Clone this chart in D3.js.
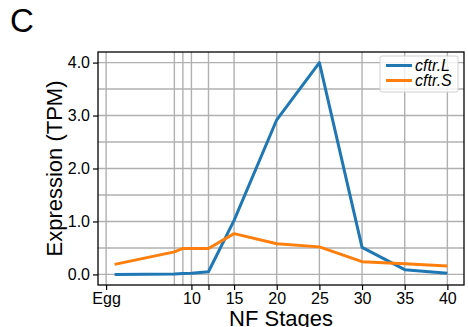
<!DOCTYPE html>
<html>
<head>
<meta charset="utf-8">
<script src="https://cdn.jsdelivr.net/npm/d3@7"></script>
<style>
  body { margin: 0; background: #fff; }
  svg { display: block; font-family: "Liberation Sans", Arial, sans-serif; }
</style>
</head>
<body>
<div id="chart"></div>
<script>
// stage positions of the samples (Egg drawn at stage 1)
var stages = [1, 8, 9, 10, 12, 15, 20, 25, 30, 35, 40];
var cftrL = [0.0, 0.01, 0.015, 0.02, 0.05, 1.02, 2.92, 4.0, 0.51, 0.09, 0.02];
var cftrS = [0.19, 0.425, 0.49, 0.49, 0.49, 0.77, 0.58, 0.52, 0.24, 0.20, 0.16];

// x ticks and their labels ('' = gridline only)
var xTicks = [0, 8, 9, 10, 12, 15, 20, 25, 30, 35, 40];
var xTickLabels = ['Egg', '', '', '10', '', '15', '20', '25', '30', '35', '40'];
var xTickMarks = [true, false, false, true, true, true, true, true, true, true, true];
var yTicks = [0, 1, 2, 3, 4];
var yMinor = [0.5, 1.5, 2.5, 3.5];

var series = [
  {name: 'cftr.L', values: cftrL, color: '#1f77b4'},
  {name: 'cftr.S', values: cftrS, color: '#ff7f0e'}
];

var width = 468, height = 327;
var margin = {top: 52, right: 4, bottom: 42, left: 98};
var w = width - margin.left - margin.right,
    h = height - margin.top - margin.bottom;

var svg = d3.select('#chart').append('svg')
  .attr('width', width)
  .attr('height', height);

// panel letter
svg.append('text')
  .attr('x', 10)
  .attr('y', 32)
  .style('font-size', '33px')
  .text('C');

var g = svg.append('g')
  .attr('transform', 'translate(' + margin.left + ',' + margin.top + ')');

var x = d3.scaleLinear().domain([-0.95, 41.95]).range([0, w]);
var y = d3.scaleLinear().domain([-0.2, 4.2]).range([h, 0]);

// grid
var grid = g.append('g').attr('class', 'grid')
  .attr('stroke', '#b0b0b0')
  .attr('stroke-width', 1.4);

grid.selectAll('line.v')
  .data(xTicks)
  .enter().append('line')
  .attr('x1', function(d) { return x(d); })
  .attr('x2', function(d) { return x(d); })
  .attr('y1', 0)
  .attr('y2', h);

grid.selectAll('line.h')
  .data(yTicks.concat(yMinor))
  .enter().append('line')
  .attr('x1', 0)
  .attr('x2', w)
  .attr('y1', function(d) { return y(d); })
  .attr('y2', function(d) { return y(d); });

// lines
var line = d3.line()
  .x(function(d, i) { return x(stages[i]); })
  .y(function(d) { return y(d); });

g.selectAll('path.series')
  .data(series)
  .enter().append('path')
  .attr('class', 'series')
  .attr('fill', 'none')
  .attr('stroke', function(d) { return d.color; })
  .attr('stroke-width', 3)
  .attr('stroke-linejoin', 'round')
  .attr('d', function(d) { return line(d.values); });

// axes
var xAxis = d3.axisBottom(x)
  .tickValues(xTicks)
  .tickFormat(function(d, i) { return xTickLabels[i]; })
  .tickSize(5)
  .tickPadding(3);

var gx = g.append('g')
  .attr('transform', 'translate(0,' + h + ')')
  .call(xAxis);
gx.select('.domain').remove();
gx.selectAll('.tick').filter(function(d, i) { return !xTickMarks[i]; })
  .select('line').remove();

var yAxis = d3.axisLeft(y)
  .tickValues(yTicks)
  .tickFormat(d3.format('.1f'))
  .tickSize(5)
  .tickPadding(3);

var gy = g.append('g').call(yAxis);
gy.select('.domain').remove();

[gx, gy].forEach(function(a) {
  a.selectAll('.tick line').attr('stroke', '#000').attr('stroke-width', 1.2);
  a.selectAll('.tick text')
    .attr('fill', '#000')
    .style('font-size', '16px')
    .style('font-family', '"Liberation Sans", Arial, sans-serif');
});

// frame
g.append('rect')
  .attr('width', w)
  .attr('height', h)
  .attr('fill', 'none')
  .attr('stroke', '#000')
  .attr('stroke-width', 1.3);

// axis titles
svg.append('text')
  .attr('transform', 'translate(62,' + (margin.top + h / 2) + ') rotate(-90)')
  .attr('text-anchor', 'middle')
  .style('font-size', '22px')
  .text('Expression (TPM)');

svg.append('text')
  .attr('x', margin.left + w / 2)
  .attr('y', 326)
  .attr('text-anchor', 'middle')
  .style('font-size', '22px')
  .text('NF Stages');

// legend
var legend = g.append('g')
  .attr('transform', 'translate(' + (w - 84) + ',4)');

legend.append('rect')
  .attr('width', 78)
  .attr('height', 36)
  .attr('rx', 2)
  .attr('fill', '#fff')
  .attr('fill-opacity', 0.8)
  .attr('stroke', '#d0d0d0')
  .attr('stroke-width', 1);

var item = legend.selectAll('g.item')
  .data(series)
  .enter().append('g')
  .attr('class', 'item')
  .attr('transform', function(d, i) { return 'translate(6,' + (9.5 + i * 15) + ')'; });

item.append('line')
  .attr('x1', 0)
  .attr('x2', 26)
  .attr('stroke', function(d) { return d.color; })
  .attr('stroke-width', 3);

item.append('text')
  .attr('x', 29)
  .attr('dy', '0.35em')
  .style('font-size', '16px')
  .style('font-style', 'italic')
  .text(function(d) { return d.name; });
</script>
</body>
</html>
